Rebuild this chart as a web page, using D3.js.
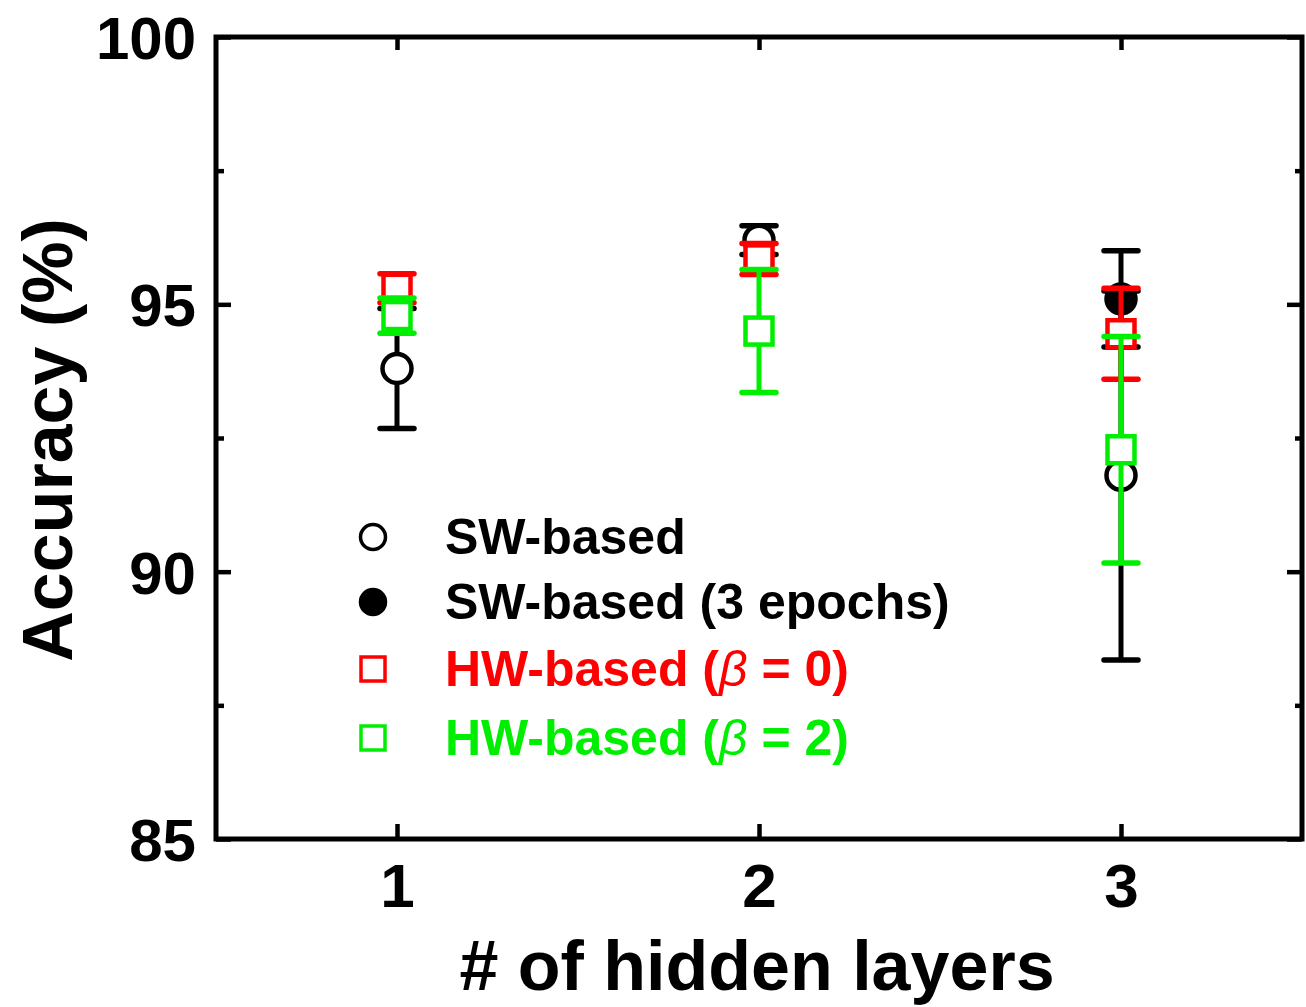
<!DOCTYPE html>
<html><head><meta charset="utf-8">
<script src="https://cdn.jsdelivr.net/npm/d3@7"></script>
<style>body{margin:0;background:#fff}svg{display:block}text{font-family:"Liberation Sans",Arial,sans-serif;font-weight:bold}</style>
</head><body>
<svg id="c" width="1306" height="1007"></svg>
<script>
const layers = [1, 2, 3];
const xTicks = [1, 2, 3];
const yTicks = [85, 90, 95, 100];
const yMinorTicks = [87.5, 92.5, 97.5];
// series: [mean, error] per layer (null = absent)
const swMean = [93.8, 96.2, 91.8];
const swErr = [1.12, 0.27, 3.45];
const sw3Mean = [null, null, 95.1];
const sw3Err = [null, null, 0.9];
const hw0Mean = [95.3, 95.85, 94.45];
const hw0Err = [0.27, 0.29, 0.85];
const hw2Mean = [94.79, 94.5, 92.28];
const hw2Err = [0.33, 1.15, 2.12];
const legendLabels = ["SW-based", "SW-based (3 epochs)", "HW-based (\u03B2 = 0)", "HW-based (\u03B2 = 2)"];

const svg = d3.select("#c");
const L = 216, R = 1302, T = 37, B = 839;
const x = d3.scaleLinear().domain([0.5, 3.5]).range([L, R]);
const y = d3.scaleLinear().domain([85, 100]).range([B, T]);

const series = [
  {mean: swMean, err: swErr, color: "#000", shape: "circle", fill: "#fff"},
  {mean: sw3Mean, err: sw3Err, color: "#000", shape: "circle", fill: "#000"},
  {mean: hw0Mean, err: hw0Err, color: "#ff0000", shape: "square", fill: "#fff"},
  {mean: hw2Mean, err: hw2Err, color: "#00ee00", shape: "square", fill: "#fff"}
];

// axes
function styleAxis(g){ g.select(".domain").remove(); g.selectAll("line").attr("stroke","#000").attr("stroke-width",4.5); }
svg.append("g").attr("transform",`translate(0,${B})`)
  .call(d3.axisBottom(x).tickValues(xTicks).tickFormat(d3.format("d")).tickSizeInner(-15).tickSizeOuter(0).tickPadding(68))
  .call(styleAxis).call(g=>g.selectAll("text").attr("font-size",62).attr("font-family","Liberation Sans").attr("font-weight","bold").attr("dy","0"));
svg.append("g").attr("transform",`translate(0,${T})`)
  .call(d3.axisTop(x).tickValues(xTicks).tickFormat("").tickSizeInner(-13).tickSizeOuter(0))
  .call(styleAxis);
svg.append("g").attr("transform",`translate(${L},0)`)
  .call(d3.axisLeft(y).tickValues(yTicks).tickFormat(d3.format("d")).tickSizeInner(-15).tickSizeOuter(0).tickPadding(20))
  .call(styleAxis).call(g=>g.selectAll("text").attr("font-size",60).attr("font-family","Liberation Sans").attr("font-weight","bold").attr("dy","0.36em"));
svg.append("g").attr("transform",`translate(${L},0)`)
  .call(d3.axisLeft(y).tickValues(yMinorTicks).tickFormat("").tickSizeInner(-8).tickSizeOuter(0)).call(styleAxis);
svg.append("g").attr("transform",`translate(${R},0)`)
  .call(d3.axisRight(y).tickValues(yTicks).tickFormat("").tickSizeInner(-15).tickSizeOuter(0)).call(styleAxis);
svg.append("g").attr("transform",`translate(${R},0)`)
  .call(d3.axisRight(y).tickValues(yMinorTicks).tickFormat("").tickSizeInner(-7).tickSizeOuter(0)).call(styleAxis);
svg.append("rect").attr("x",L).attr("y",T).attr("width",R-L).attr("height",B-T)
  .attr("fill","none").attr("stroke","#000").attr("stroke-width",5);

// data
const capW = 17;
series.forEach(s=>{
  const g = svg.append("g");
  const pts = layers.map((l,i)=>({l, m:s.mean[i], e:s.err[i]})).filter(d=>d.m!=null);
  pts.forEach(d=>{
    const cx = x(d.l), yt = y(d.m + d.e), yb = y(d.m - d.e);
    g.append("line").attr("x1",cx).attr("x2",cx).attr("y1",yt).attr("y2",yb).attr("stroke",s.color).attr("stroke-width",5);
    [yt,yb].forEach(yy=>g.append("line").attr("x1",cx-capW).attr("x2",cx+capW).attr("y1",yy).attr("y2",yy)
      .attr("stroke",s.color).attr("stroke-width",5.5).attr("stroke-linecap","round"));
    if(s.shape==="circle"){
      g.append("circle").attr("cx",cx).attr("cy",y(d.m)).attr("r",14.5).attr("fill",s.fill).attr("stroke",s.color).attr("stroke-width",4.5);
    } else {
      g.append("rect").attr("x",cx-13.5).attr("y",y(d.m)-13.5).attr("width",27).attr("height",27).attr("fill",s.fill).attr("stroke",s.color).attr("stroke-width",4.5);
    }
  });
});

// legend
const legY = [537, 602, 669, 738];
const lg = svg.append("g");
series.forEach((s,i)=>{
  if(s.shape==="circle"){
    lg.append("circle").attr("cx",373).attr("cy",legY[i]).attr("r",12.5).attr("fill",s.fill).attr("stroke",s.color).attr("stroke-width",3.5);
  } else {
    lg.append("rect").attr("x",361).attr("y",legY[i]-12).attr("width",24).attr("height",24).attr("fill","#fff").attr("stroke",s.color).attr("stroke-width",3.5);
  }
  const t = lg.append("text").attr("x",445).attr("y",legY[i]+17).attr("font-size",50).attr("fill",s.color);
  const lab = legendLabels[i];
  const bi = lab.indexOf("\u03B2");
  if(bi<0){ t.text(lab); }
  else {
    t.append("tspan").text(lab.slice(0,bi));
    t.append("tspan").attr("font-style","italic").attr("font-weight","normal").text("\u03B2");
    t.append("tspan").text(lab.slice(bi+1));
  }
});

// axis titles
svg.append("text").attr("x",757).attr("y",990).attr("text-anchor","middle").attr("font-size",70).text("# of hidden layers");
svg.append("text").attr("transform","translate(72,440) rotate(-90)").attr("text-anchor","middle").attr("font-size",70).text("Accuracy (%)");
</script>
</body></html>
